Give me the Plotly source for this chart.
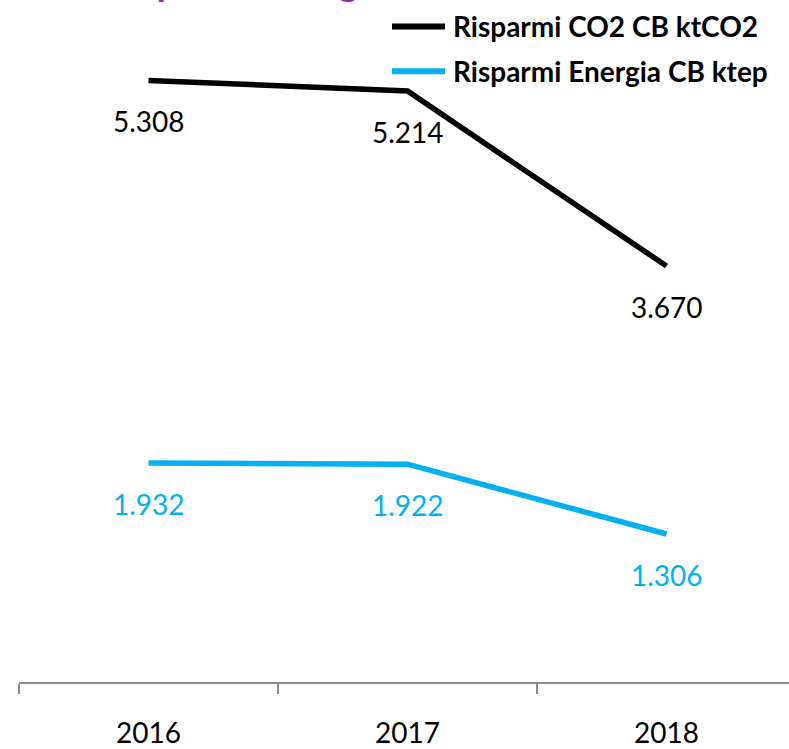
import plotly.graph_objects as go

years = ["2016", "2017", "2018"]
co2_savings = [5308, 5214, 3670]        # ktCO2
energy_savings = [1932, 1922, 1306]     # ktep
series_names = ["Risparmi CO2 CB ktCO2", "Risparmi Energia CB ktep"]
series_colors = ["#000000", "#00B0F0"]
title_text = "Risparmi energetici"

W, H = 789, 749
ML, MR, MT, MB = 19, 0, 2, 51
FONT = "Lato, 'Open Sans', sans-serif"

def fmt(v):
    return f"{v:,}".replace(",", ".")

fig = go.Figure()
for name, vals, col in zip(series_names, [co2_savings, energy_savings], series_colors):
    fig.add_trace(go.Scatter(
        x=years, y=vals, mode="lines", name=name,
        line=dict(color=col, width=5.5), showlegend=False, hoverinfo="skip"))
    for i, yv in enumerate(vals):
        fig.add_annotation(x=i, y=yv, xref="x", yref="y", text=fmt(yv),
                           showarrow=False, yshift=-41,
                           xanchor="center", yanchor="middle",
                           font=dict(family=FONT, size=28, color=col))

pw = W - ML - MR
ph = H - MT - MB
def px2x(p):
    return (p - ML) / pw
def py2y(p):
    return (H - MB - p) / ph

# legend (manual, top right)
leg_y = [27, 73]
for name, col, yy in zip(series_names, series_colors, leg_y):
    fig.add_shape(type="line", xref="paper", yref="paper",
                  x0=px2x(392), x1=px2x(445), y0=py2y(yy), y1=py2y(yy),
                  line=dict(color=col, width=6))
    fig.add_annotation(xref="paper", yref="paper", x=px2x(451), y=py2y(yy),
                       xanchor="left", yanchor="middle", showarrow=False,
                       text="<b>" + name + "</b>",
                       font=dict(family=FONT, size=28, color="#000000"))

# cut-off title (only descenders visible)
fig.add_annotation(xref="paper", yref="paper", x=px2x(104), y=1,
                   xanchor="left", yanchor="bottom", yshift=-4, showarrow=False,
                   text="<b>" + title_text + "</b>",
                   font=dict(family=FONT, size=38, color="#A020B0"))

fig.update_layout(
    width=W, height=H,
    margin=dict(l=ML, r=MR, t=MT, b=MB),
    paper_bgcolor="white", plot_bgcolor="white",
    showlegend=False,
    xaxis=dict(type="category", range=[-0.5, -0.5 + pw / 259.0],
               showgrid=False, zeroline=False,
               showline=True, linecolor="#8C8C8C", linewidth=2,
               ticks="outside", tickson="boundaries", ticklen=10,
               tickcolor="#8C8C8C", tickwidth=2, ticklabelstandoff=25,
               tickfont=dict(family=FONT, size=28, color="#000000")),
    yaxis=dict(range=[0, 6000], visible=False,
               showgrid=False, zeroline=False),
)

post = (
    "var h=document.documentElement,b=document.body;"
    "h.style.margin='0';h.style.padding='0';h.style.overflow='hidden';"
    "b.style.margin='0';b.style.padding='0';b.style.overflow='hidden';"
)
fig.write_html("out.html", config={"displayModeBar": False}, post_script=post)
